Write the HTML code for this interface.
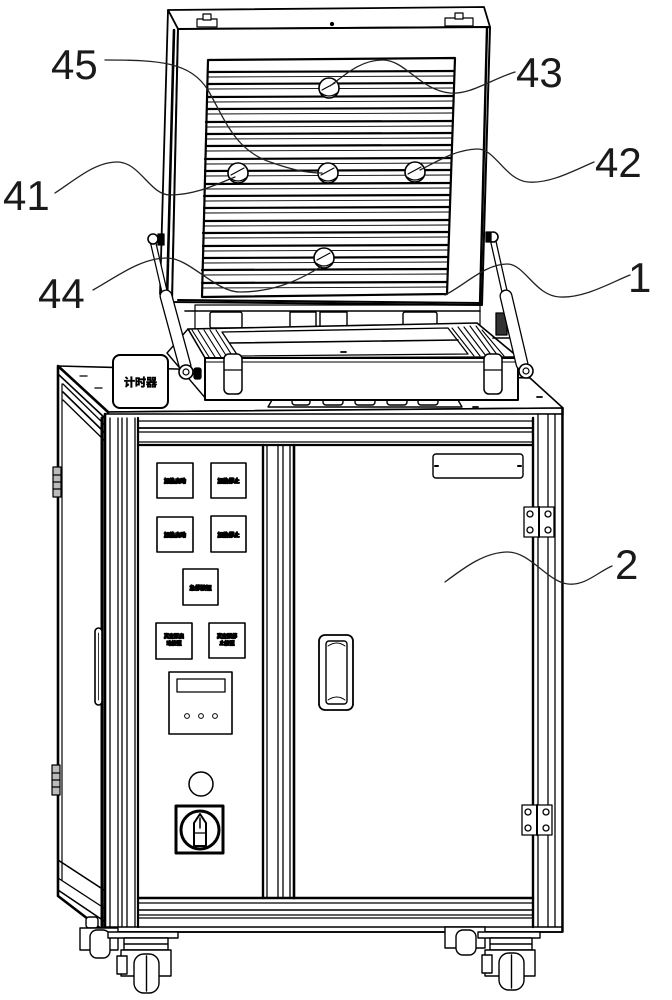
<!DOCTYPE html>
<html><head><meta charset="utf-8"><style>
html,body{margin:0;padding:0;background:#fff;}
svg{display:block}
.t{font-family:"Liberation Sans","DejaVu Sans",sans-serif;font-size:42px;fill:#1a1a1a;stroke:none;}
.c{font-family:"Liberation Sans","Noto Sans CJK SC",sans-serif;font-weight:bold;fill:#000;stroke:#000;stroke-width:0.6;}
.b{font-family:"Liberation Sans","Noto Sans CJK SC",sans-serif;font-weight:bold;fill:#000;stroke:#000;stroke-width:1.3;}
</style></head><body>
<svg width="672" height="1000" viewBox="0 0 672 1000" xmlns="http://www.w3.org/2000/svg">
<rect width="672" height="1000" fill="#fff"/>
<g fill="none" stroke="#000" stroke-width="1.3" stroke-linejoin="round" stroke-linecap="round">

<!-- ===== CABINET ===== -->
<polygon points="58,366 530,378 563,408 108,412" fill="#fff" stroke-width="1.6"/>
<polygon points="108,412 563,408 563,414 108,418" fill="#fff" stroke-width="1.6"/>
<line x1="80" y1="376" x2="87" y2="376"/>
<line x1="95" y1="388" x2="102" y2="388"/>
<line x1="537" y1="397" x2="542" y2="397" stroke-width="1.8"/>
<line x1="473" y1="407" x2="478" y2="407" stroke-width="1.8"/>

<!-- left side panel -->
<polygon points="58,366 108,412 105,932 58,896" fill="#fff" stroke-width="2.6"/>
<line x1="58" y1="374" x2="106" y2="419" stroke-width="1.6"/>
<line x1="63" y1="384" x2="105" y2="425"/>
<line x1="63" y1="392" x2="105" y2="433" stroke-width="1.6"/>
<line x1="63" y1="400" x2="105" y2="441"/>
<line x1="62" y1="384" x2="62" y2="880" stroke-width="1.2"/>
<line x1="58" y1="860" x2="104" y2="890" stroke-width="1.6"/>
<line x1="58" y1="878" x2="104" y2="908"/>
<line x1="58" y1="890" x2="104" y2="921" stroke-width="1.6"/>
<line x1="102" y1="418" x2="102" y2="930" stroke-width="3"/>
<!-- side hinges -->
<rect x="53" y="467" width="8" height="30" fill="#bbb" stroke-width="1.2"/>
<line x1="53" y1="475" x2="61" y2="475"/><line x1="53" y1="482" x2="61" y2="482"/><line x1="53" y1="489" x2="61" y2="489"/>
<rect x="52" y="765" width="8" height="30" fill="#bbb" stroke-width="1.2"/>
<line x1="52" y1="773" x2="60" y2="773"/><line x1="52" y1="780" x2="60" y2="780"/><line x1="52" y1="787" x2="60" y2="787"/>
<!-- side handle -->
<rect x="95" y="628" width="7" height="77" rx="3.5" fill="#fff" stroke-width="1.6"/>
<line x1="98.5" y1="633" x2="98.5" y2="700" stroke-width="0.8"/>

<!-- front frame -->
<rect x="105" y="414" width="458" height="518" fill="#fff" stroke-width="1.4"/>
<line x1="105" y1="414" x2="105" y2="932" stroke-width="2.6"/>
<line x1="110" y1="418" x2="110" y2="927"/>
<line x1="118" y1="418" x2="118" y2="927"/>
<line x1="122" y1="418" x2="122" y2="927"/>
<line x1="127" y1="418" x2="127" y2="927"/>
<line x1="135" y1="418" x2="135" y2="927"/>
<line x1="138" y1="418" x2="138" y2="927" stroke-width="2.2"/>
<line x1="533" y1="418" x2="533" y2="927" stroke-width="2.4"/>
<line x1="538" y1="414" x2="538" y2="927"/>
<line x1="548" y1="414" x2="548" y2="927"/>
<line x1="555" y1="414" x2="555" y2="927"/>
<line x1="562" y1="408" x2="562" y2="932" stroke-width="1.6"/>
<line x1="138" y1="421" x2="533" y2="421"/>
<line x1="138" y1="428" x2="533" y2="428" stroke-width="1.8"/>
<line x1="138" y1="432" x2="533" y2="432"/>
<line x1="138" y1="442" x2="533" y2="442"/>
<line x1="138" y1="445" x2="533" y2="445" stroke-width="2.2"/>
<line x1="138" y1="898" x2="533" y2="898" stroke-width="2.4"/>
<line x1="138" y1="903" x2="533" y2="903"/>
<line x1="138" y1="910" x2="533" y2="910" stroke-width="1.6"/>
<line x1="138" y1="915" x2="533" y2="915"/>
<line x1="138" y1="918" x2="533" y2="918"/>
<line x1="105" y1="927" x2="562" y2="927" stroke-width="1.6"/>
<line x1="105" y1="932" x2="562" y2="932" stroke-width="1.8"/>
<line x1="263" y1="445" x2="263" y2="898" stroke-width="2.4"/>
<line x1="267" y1="445" x2="267" y2="898"/>
<line x1="278" y1="445" x2="278" y2="898"/>
<line x1="283" y1="445" x2="283" y2="898"/>
<line x1="290" y1="445" x2="290" y2="898"/>
<line x1="294" y1="445" x2="294" y2="898" stroke-width="2.6"/>

<!-- control panel items -->
<g fill="#fff" stroke-width="1.6">
<rect x="157" y="463" width="36" height="35"/>
<rect x="211" y="463" width="35" height="35"/>
<rect x="157" y="517" width="36" height="35"/>
<rect x="211" y="516" width="35" height="36"/>
<rect x="183" y="569" width="35" height="36"/>
<rect x="156" y="623" width="36" height="36"/>
<rect x="209" y="623" width="36" height="35"/>
</g>
<text class="b" x="175" y="483" font-size="5.5" text-anchor="middle">加热启动</text>
<text class="b" x="228.5" y="483" font-size="5.5" text-anchor="middle">加热停止</text>
<text class="b" x="175" y="537" font-size="5.5" text-anchor="middle">加热启动</text>
<text class="b" x="228.5" y="537" font-size="5.5" text-anchor="middle">加热停止</text>
<text class="b" x="200.5" y="590" font-size="5.5" text-anchor="middle">急停按钮</text>
<text class="b" x="174" y="638" font-size="5" text-anchor="middle">真空泵启</text>
<text class="b" x="174" y="645" font-size="5" text-anchor="middle">动按钮</text>
<text class="b" x="227" y="638" font-size="5" text-anchor="middle">真空泵停</text>
<text class="b" x="227" y="645" font-size="5" text-anchor="middle">止按钮</text>
<rect x="169" y="672" width="63" height="62" fill="#fff" stroke-width="1.6"/>
<rect x="177" y="679" width="48" height="13" fill="#fff" stroke-width="1.3"/>
<circle cx="187" cy="716" r="2.4" stroke-width="1"/>
<circle cx="201" cy="716" r="2.4" stroke-width="1"/>
<circle cx="215" cy="716" r="2.4" stroke-width="1"/>
<circle cx="201" cy="784" r="12" stroke-width="1.5"/>
<rect x="176" y="806" width="47" height="47" stroke-width="3"/>
<circle cx="200" cy="830" r="19" stroke-width="3"/>
<path d="M200,814 L206,823 L206,846 L194,846 L194,823 Z" fill="#fff" stroke-width="2"/>
<line x1="200" y1="818" x2="200" y2="828" stroke-width="1.5"/>
<line x1="194" y1="833" x2="206" y2="833" stroke-width="1.2"/>

<!-- right door -->
<rect x="433" y="454" width="90" height="24" rx="3" fill="#fff" stroke-width="1.4"/>
<line x1="435" y1="466" x2="438" y2="466" stroke-width="2"/>
<line x1="518" y1="466" x2="521" y2="466" stroke-width="2"/>
<rect x="319" y="635" width="34" height="75" rx="6" fill="#fff" stroke-width="1.8"/>
<rect x="326" y="641" width="21" height="63" rx="3" fill="#fff" stroke-width="1.4"/>
<path d="M328,646 Q337,640 345,646" stroke-width="1"/>
<path d="M328,700 Q337,694 345,700" stroke-width="1"/>
<g fill="#fff" stroke-width="1.3">
<rect x="524" y="507" width="15" height="30"/>
<rect x="539" y="507" width="15" height="30"/>
<circle cx="530" cy="514" r="3"/><circle cx="530" cy="530" r="3"/>
<circle cx="548" cy="514" r="3"/><circle cx="548" cy="530" r="3"/>
<rect x="522" y="805" width="15" height="30"/>
<rect x="537" y="805" width="15" height="30"/>
<circle cx="528" cy="812" r="3"/><circle cx="528" cy="828" r="3"/>
<circle cx="546" cy="812" r="3"/><circle cx="546" cy="828" r="3"/>
</g>
<line x1="539" y1="507" x2="539" y2="537" stroke-width="2"/>
<line x1="537" y1="805" x2="537" y2="835" stroke-width="2"/>

<!-- casters -->
<g fill="#fff" stroke-width="1.4">
<rect x="86" y="917" width="12" height="11" rx="3"/>
<rect x="80" y="928" width="38" height="22"/>
<rect x="90" y="930" width="20" height="28" rx="7"/>
<rect x="445" y="927" width="40" height="21"/>
<rect x="456" y="930" width="20" height="25" rx="7"/>
<rect x="108" y="932" width="70" height="6"/>
<rect x="124" y="938" width="44" height="12"/>
<line x1="124" y1="944" x2="168" y2="944"/>
<rect x="121" y="950" width="50" height="26"/>
<rect x="134" y="954" width="25" height="39" rx="10"/>
<line x1="146.5" y1="956" x2="146.5" y2="991"/>
<rect x="117" y="956" width="10" height="18"/>
<rect x="478" y="932" width="62" height="6"/>
<rect x="490" y="938" width="42" height="12"/>
<line x1="490" y1="944" x2="532" y2="944"/>
<rect x="485" y="950" width="50" height="26"/>
<rect x="499" y="953" width="25" height="37" rx="10"/>
<line x1="511.5" y1="955" x2="511.5" y2="988"/>
<rect x="482" y="955" width="10" height="18"/>
</g>

<!-- TIMER BOX -->
<rect x="113" y="355" width="55" height="53" rx="7" fill="#fff" stroke-width="2"/>
<text class="c" x="140.5" y="386" font-size="11" text-anchor="middle" stroke-width="0.3">计时器</text>

<!-- BUTTONS ON TOP -->
<polygon points="272,400 458,400 462,407 268,407" fill="#fff" stroke-width="1.4"/>
<g fill="#fff" stroke-width="1.4">
<rect x="292" y="393" width="18" height="12" rx="3"/>
<rect x="323" y="393" width="20" height="12" rx="3"/>
<rect x="355" y="393" width="20" height="12" rx="3"/>
<rect x="387" y="393" width="20" height="12" rx="3"/>
<rect x="418" y="393" width="20" height="12" rx="3"/>
</g>
<line x1="292" y1="398" x2="438" y2="398" stroke-width="0.8"/>

<!-- PLATEN -->
<rect x="195" y="305" width="285" height="25" fill="#fff" stroke-width="1.2"/>
<line x1="185" y1="311" x2="480" y2="311" stroke-width="1.6"/>
<g fill="#fff" stroke-width="1.4">
<rect x="210" y="312" width="32" height="16" rx="2"/>
<rect x="290" y="312" width="26" height="16"/>
<rect x="320" y="312" width="27" height="16"/>
<rect x="403" y="312" width="34" height="16" rx="2"/>
</g>
<polygon points="188,329 477,323 518,357 205,358" fill="#fff" stroke-width="1.6"/>
<polygon points="167,353 188,329 205,358 207,400" fill="#fff" stroke-width="1.4"/>
<polygon points="222,332 448,328 468,354 238,356" fill="#fff" stroke-width="1.3"/>
<line x1="230" y1="343" x2="458" y2="340" stroke-width="1.6"/>
<g stroke-width="1.1">
<line x1="192" y1="330" x2="209" y2="357"/><line x1="198" y1="330" x2="215" y2="357"/>
<line x1="204" y1="330" x2="221" y2="357"/><line x1="210" y1="330" x2="227" y2="357"/>
<line x1="216" y1="330" x2="233" y2="357"/>
<line x1="452" y1="328" x2="474" y2="356"/><line x1="458" y1="327" x2="480" y2="356"/>
<line x1="464" y1="327" x2="486" y2="356"/><line x1="470" y1="326" x2="492" y2="356"/>
<line x1="476" y1="326" x2="498" y2="356"/><line x1="482" y1="330" x2="504" y2="356"/>
</g>
<rect x="205" y="358" width="313" height="42" fill="#fff" stroke-width="2"/>
<line x1="205" y1="362" x2="518" y2="362" stroke-width="1"/>
<line x1="341" y1="352" x2="346" y2="352" stroke-width="1.8"/>
<g fill="#fff" stroke-width="1.5">
<rect x="224" y="354" width="18" height="40" rx="5"/>
<rect x="484" y="354" width="18" height="40" rx="5"/>
</g>
<line x1="224" y1="370" x2="242" y2="370"/>
<line x1="484" y1="370" x2="502" y2="370"/>

<!-- LID -->
<polygon points="168,10 484,7 490,27 178,29" fill="#fff" stroke-width="1.8"/>
<polygon points="168,10 178,29 172,302 160,294" fill="#fff" stroke-width="1.8"/>
<polygon points="178,29 490,27 482,305 172,302" fill="#fff" stroke-width="2"/>
<line x1="174" y1="30" x2="167" y2="300" stroke-width="2.6"/>
<line x1="487" y1="28" x2="480" y2="305" stroke-width="2.4"/>
<line x1="178" y1="300" x2="480" y2="303" stroke-width="2"/>
<g fill="#fff" stroke-width="1.2">
<rect x="197" y="19" width="20" height="8"/>
<rect x="203" y="14" width="8" height="6"/>
<rect x="445" y="18" width="28" height="8"/>
<rect x="455" y="13" width="8" height="6"/>
</g>
<circle cx="332" cy="24" r="1.5" fill="#000"/>
<polygon points="208,60 455,58 447,294 202,297" fill="#fff" stroke-width="2.2"/>
<g stroke-width="2.2">
<line x1="208" y1="72" x2="454" y2="71"/>
<line x1="208" y1="84" x2="454" y2="83"/>
<line x1="207" y1="97" x2="453" y2="96"/>
<line x1="207" y1="109" x2="453" y2="108"/>
<line x1="206" y1="122" x2="452" y2="121"/>
<line x1="206" y1="134" x2="452" y2="133"/>
<line x1="206" y1="146" x2="452" y2="145"/>
<line x1="205" y1="159" x2="451" y2="158"/>
<line x1="205" y1="171" x2="451" y2="170"/>
<line x1="205" y1="184" x2="450" y2="183"/>
<line x1="204" y1="196" x2="450" y2="195"/>
<line x1="204" y1="208" x2="450" y2="207"/>
<line x1="204" y1="221" x2="449" y2="220"/>
<line x1="203" y1="233" x2="449" y2="232"/>
<line x1="203" y1="246" x2="448" y2="245"/>
<line x1="203" y1="258" x2="448" y2="257"/>
<line x1="202" y1="270" x2="448" y2="269"/>
<line x1="202" y1="283" x2="447" y2="282"/>
</g>
<g stroke-width="0.9">
<line x1="208" y1="77" x2="454" y2="76"/>
<line x1="208" y1="89" x2="454" y2="88"/>
<line x1="207" y1="102" x2="453" y2="101"/>
<line x1="207" y1="114" x2="453" y2="113"/>
<line x1="206" y1="127" x2="452" y2="126"/>
<line x1="206" y1="139" x2="452" y2="138"/>
<line x1="206" y1="151" x2="452" y2="150"/>
<line x1="205" y1="164" x2="451" y2="163"/>
<line x1="205" y1="176" x2="451" y2="175"/>
<line x1="205" y1="189" x2="450" y2="188"/>
<line x1="204" y1="201" x2="450" y2="200"/>
<line x1="204" y1="213" x2="450" y2="212"/>
<line x1="204" y1="226" x2="449" y2="225"/>
<line x1="203" y1="238" x2="449" y2="237"/>
<line x1="203" y1="251" x2="448" y2="250"/>
<line x1="203" y1="263" x2="448" y2="262"/>
<line x1="202" y1="275" x2="448" y2="274"/>
<line x1="202" y1="288" x2="447" y2="287"/>
</g>
<g fill="#fff" stroke-width="1.6">
<circle cx="329" cy="88" r="10"/>
<circle cx="238" cy="173" r="10"/>
<circle cx="328" cy="173" r="10"/>
<circle cx="415" cy="172" r="10"/>
<circle cx="324" cy="258" r="10"/>
</g>
<g stroke-width="1.1">
<path d="M321,93 Q329,99 337,93"/><line x1="322" y1="90" x2="335" y2="83"/>
<path d="M230,178 Q238,184 246,178"/><line x1="231" y1="175" x2="244" y2="168"/>
<path d="M320,178 Q328,184 336,178"/><line x1="321" y1="175" x2="334" y2="168"/>
<path d="M407,177 Q415,183 423,177"/><line x1="408" y1="174" x2="421" y2="167"/>
<path d="M316,263 Q324,269 332,263"/><line x1="317" y1="260" x2="330" y2="253"/>
</g>

<!-- STRUTS -->
<line x1="153" y1="242" x2="166" y2="298" stroke-width="6.5"/>
<line x1="153" y1="242" x2="166" y2="298" stroke="#fff" stroke-width="4"/>
<line x1="166" y1="296" x2="185" y2="366" stroke-width="13"/>
<line x1="166" y1="296" x2="185" y2="366" stroke="#fff" stroke-width="10.4"/>
<circle cx="153" cy="239" r="5" fill="#fff" stroke-width="1.6"/>
<rect x="158" y="234" width="6" height="11" fill="#000"/>
<circle cx="186" cy="372" r="7" fill="#fff" stroke-width="1.6"/>
<circle cx="186" cy="372" r="3" stroke-width="1.2"/>
<rect x="194" y="368" width="7" height="11" rx="2" fill="#000"/>
<line x1="493" y1="240" x2="506" y2="298" stroke-width="6.5"/>
<line x1="493" y1="240" x2="506" y2="298" stroke="#fff" stroke-width="4"/>
<rect x="496" y="313" width="11" height="22" fill="#333"/>
<line x1="493" y1="338" x2="512" y2="338" stroke-width="1.6"/>
<line x1="506" y1="296" x2="522" y2="364" stroke-width="13"/>
<line x1="506" y1="296" x2="522" y2="364" stroke="#fff" stroke-width="10.4"/>
<circle cx="493" cy="237" r="5" fill="#fff" stroke-width="1.6"/>
<rect x="486" y="232" width="5" height="10" fill="#000"/>
<circle cx="526" cy="371" r="7" fill="#fff" stroke-width="1.6"/>
<circle cx="526" cy="371" r="3" stroke-width="1.2"/>

<!-- LEADER LINES -->
<g stroke="#222" stroke-width="1.3">
<path d="M105,60 C160,60 190,62 208,90 C225,120 235,150 270,162 C290,169 305,173 322,173"/>
<path d="M515,72 C490,80 470,95 450,93 C420,90 405,60 383,60 C360,60 345,75 330,86"/>
<path d="M594,162 C575,170 550,184 528,182 C505,180 495,148 477,149 C455,150 440,160 420,170"/>
<path d="M55,193 C75,180 95,162 117,162 C140,162 150,195 170,195 C195,195 215,185 235,177"/>
<path d="M93,290 C115,278 140,258 167,258 C190,258 215,292 240,292 C270,292 295,283 322,266"/>
<path d="M630,275 C610,283 585,298 560,297 C535,296 525,264 507,264 C485,264 465,285 445,295"/>
<path d="M612,566 C598,572 585,586 568,584 C548,582 530,552 508,552 C485,552 465,567 445,582"/>
</g>
</g>

<text class="t" x="51" y="79">45</text>
<text class="t" x="516" y="87">43</text>
<text class="t" x="595" y="177">42</text>
<text class="t" x="3" y="210">41</text>
<text class="t" x="38" y="308">44</text>
<text class="t" x="628" y="292">1</text>
<text class="t" x="615" y="579">2</text>
</svg>
</body></html>
